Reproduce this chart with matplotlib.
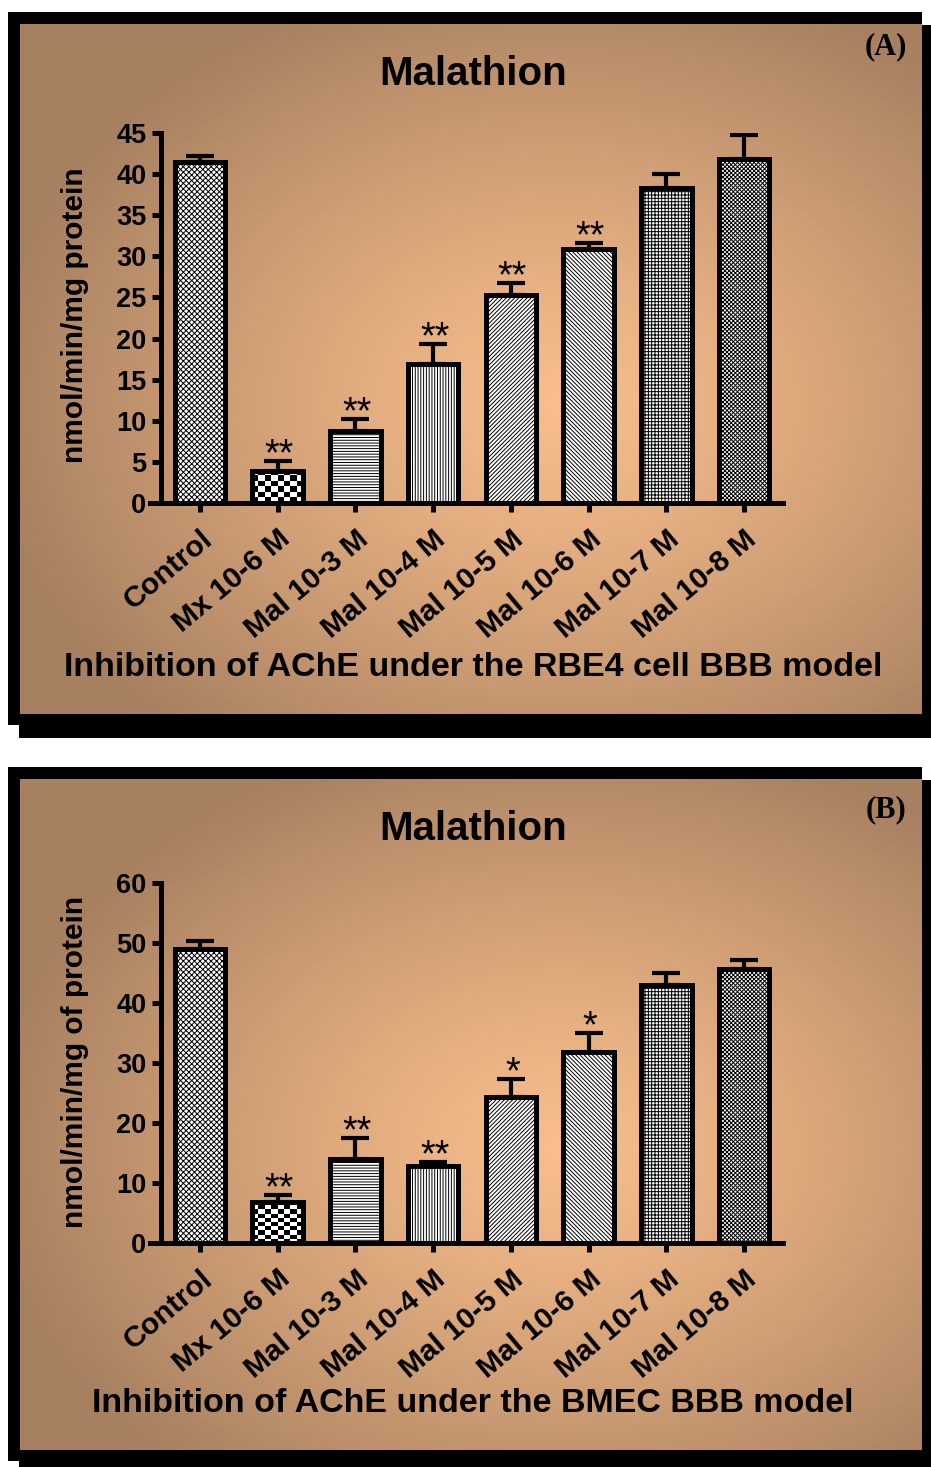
import matplotlib
matplotlib.use('Agg')
import matplotlib.pyplot as plt
import matplotlib.patches as patches
import numpy as np

plt.rcParams['font.family'] = ['Liberation Sans', 'DejaVu Sans']
plt.rcParams['font.weight'] = 'bold'
plt.rcParams['hatch.linewidth'] = 0.7

W, H = 931, 1467
DPI = 100

# --- data ---
categories = ['Control', 'Mx 10-6 M', 'Mal 10-3 M', 'Mal 10-4 M',
              'Mal 10-5 M', 'Mal 10-6 M', 'Mal 10-7 M', 'Mal 10-8 M']
rbe4_mean = [41.5, 3.9, 8.8, 16.9, 25.3, 30.9, 38.3, 41.8]
rbe4_sem = [0.7, 1.2, 1.4, 2.4, 1.4, 0.7, 1.7, 2.9]
rbe4_sig = ['', '**', '**', '**', '**', '**', '', '']
bmec_mean = [49.0, 6.9, 14.0, 12.9, 24.3, 31.9, 43.0, 45.7]
bmec_sem = [1.4, 1.1, 3.5, 0.6, 3.0, 3.1, 2.0, 1.5]
bmec_sig = ['', '**', '**', '**', '*', '*', '', '']

hatches = ['xxxxxx', None, '------', '||||||', '////////', '\\' * 8,
           '+++++', 'xxxxxxxx']

edge_col = (0.655, 0.502, 0.376)
centre_col = (0.973, 0.745, 0.549)

fig = plt.figure(figsize=(W / DPI, H / DPI), dpi=DPI)
fig.patch.set_facecolor('white')

bg = fig.add_axes([0, 0, 1, 1])
bg.set_xlim(0, W)
bg.set_ylim(H, 0)
bg.axis('off')


def px(x, y):
    return x / W, 1 - y / H


def panel(y0, y1, shadow_bottom):
    # black frame with drop shadow
    bg.add_patch(patches.Rectangle((8, y0 - 12), 922 - 8, (y1 + 11) - (y0 - 12),
                                   facecolor='black', edgecolor='none'))
    bg.add_patch(patches.Rectangle((19, y0 + 1), 931 - 19, shadow_bottom - (y0 + 1),
                                   facecolor='black', edgecolor='none'))
    # radial gradient fill
    nx, ny = 300, 240
    xx, yy = np.meshgrid(np.linspace(0, 1, nx), np.linspace(0, 1, ny))
    d = np.sqrt(((xx - 0.6) / 0.64) ** 2 + ((yy - 0.55) / 0.64) ** 2)
    t = np.clip(d, 0, 1) ** 1.2
    img = np.zeros((ny, nx, 3))
    for k in range(3):
        img[..., k] = centre_col[k] + (edge_col[k] - centre_col[k]) * t
    bg.imshow(img, extent=(20, 922, y1, y0), aspect='auto', zorder=1,
              interpolation='bilinear')


panel(24, 714, 738)
panel(779, 1450, 1467)


def draw_chart(rect, means, sems, sigs, ymax, ystep, ylabel, xlabel, title, letter,
               title_y, letter_y, ylab_y, xlab_y):
    ax = fig.add_axes(rect)
    ax.patch.set_alpha(0)
    x = np.arange(len(categories))
    bars = ax.bar(x, means, width=0.65, color='white', edgecolor='black',
                  linewidth=3.6, zorder=3)
    for b, h in zip(bars, hatches):
        if h:
            b.set_hatch(h)
    # checkerboard for the Mx bar
    b = bars[1]
    b.set_facecolor('none')
    x0, w, hgt = b.get_x(), b.get_width(), b.get_height()
    p0 = ax.transData.transform((x0, 0))
    p1 = ax.transData.transform((x0 + w, hgt))
    ncol = max(int(round((p1[0] - p0[0]) / 4.3)), 2)
    nrow = max(int(round((p1[1] - p0[1]) / 4.3)), 2)
    chk = (np.indices((nrow, ncol)).sum(axis=0) % 2).astype(float)
    im = ax.imshow(chk, cmap='gray', extent=(x0, x0 + w, 0, hgt), aspect='auto',
                   interpolation='nearest', zorder=2.5)
    im.set_clip_path(b)

    ax.errorbar(x, means, yerr=[np.zeros(len(means)), sems], fmt='none',
                ecolor='black', elinewidth=3.0, capsize=10, capthick=3.0, zorder=2)
    for xi, m, s, sg in zip(x, means, sems, sigs):
        if sg:
            ax.annotate(sg, (xi, m + s), xytext=(1, -3), textcoords='offset points',
                        ha='center', va='baseline', fontsize=27, fontweight='normal',
                        zorder=5)

    ax.set_xlim(-0.5, 7.5)
    ax.set_ylim(0, ymax)
    ax.set_yticks(np.arange(0, ymax + 1, ystep))
    ax.set_xticks(x)
    ax.set_xticklabels(categories, rotation=40, ha='right', va='top',
                       rotation_mode='anchor', fontsize=21.5, fontweight='bold')
    for lab in ax.get_yticklabels():
        lab.set_fontsize(19.5)
        lab.set_fontweight('bold')
    ax.tick_params(axis='both', direction='out', length=6.5, width=3.6, pad=4)
    ax.tick_params(axis='x', pad=9)
    for s in ['top', 'right']:
        ax.spines[s].set_visible(False)
    for s in ['left', 'bottom']:
        ax.spines[s].set_linewidth(3.6)
    ax.spines['bottom'].set_bounds(-0.64, 7.5)

    fig.text(*px(473, title_y), title, ha='center', va='center', fontsize=29,
             fontweight='bold')
    fig.text(*px(886, letter_y), letter, ha='center', va='center', fontsize=22,
             fontweight='bold', family='Liberation Serif')
    fig.text(*px(75, ylab_y), ylabel, ha='center', va='center', rotation=90,
             fontsize=21.5, fontweight='bold')
    fig.text(*px(473, xlab_y), xlabel, ha='center', va='center', fontsize=24.5,
             fontweight='bold')
    return ax


draw_chart([161 / W, 1 - 503 / H, (783 - 161) / W, (503 - 133) / H],
           rbe4_mean, rbe4_sem, rbe4_sig, 45, 5, 'nmol/min/mg protein',
           'Inhibition of AChE under the RBE4 cell BBB model', 'Malathion', '(A)',
           74, 47, 315, 667)
draw_chart([161 / W, 1 - 1243 / H, (783 - 161) / W, (1243 - 883) / H],
           bmec_mean, bmec_sem, bmec_sig, 60, 10, 'nmol/min/mg of protein',
           'Inhibition of AChE under the BMEC BBB model', 'Malathion', '(B)',
           829, 810, 1062, 1404)

fig.savefig('out.png', dpi=DPI, facecolor='white')
